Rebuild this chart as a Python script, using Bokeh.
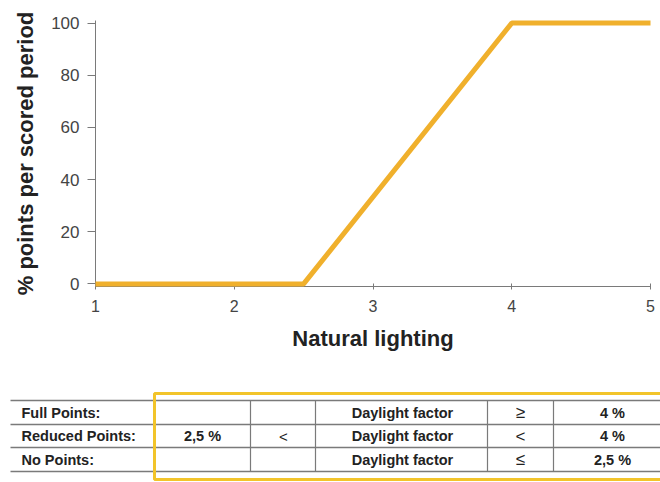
from bokeh.plotting import figure
from bokeh.models import Range1d, FixedTicker, ColumnDataSource
from bokeh.embed import file_html
from bokeh.resources import INLINE
from bokeh.core.properties import value

# ---------------- data ----------------
lighting = [1, 2.5, 4, 5]
points_pct = [0, 0, 100, 100]
x_ticks = [1, 2, 3, 4, 5]
y_ticks = [0, 20, 40, 60, 80, 100]
x_label = "Natural lighting"
y_label = "% points per scored period"

row_labels = ["Full Points:", "Reduced Points:", "No Points:"]
col_lower = ["", "2,5 %", ""]
col_lower_op = ["", "<", ""]
col_metric = ["Daylight factor", "Daylight factor", "Daylight factor"]
col_upper_op = ["\u2265", "<", "\u2264"]
col_upper = ["4 %", "4 %", "2,5 %"]

# ---------------- style ----------------
ORANGE = "#F0B02C"
YELLOW = "#F2C42A"
GRID = "#7a7a7a"
FONT = "Liberation Sans"

W = 660
H1 = 385
H2 = 97

# ---------------- chart ----------------
p = figure(width=W, height=H1, output_backend="svg", toolbar_location=None,
           x_range=Range1d(1, 5), y_range=Range1d(-1, 101),
           min_border_left=95, min_border_right=10,
           min_border_top=20, min_border_bottom=99)
p.grid.visible = False
p.outline_line_color = None

r = p.line(lighting, points_pct, line_color=ORANGE, line_width=5)
r.level = "overlay"

xa = p.xaxis[0]
xa.ticker = FixedTicker(ticks=x_ticks)
xa.axis_label = x_label
xa.axis_label_text_font = FONT
xa.axis_label_text_font_style = "bold"
xa.axis_label_text_font_size = "22px"
xa.axis_label_text_color = "#222222"
xa.axis_label_standoff = 11
xa.major_label_text_font = FONT
xa.major_label_text_font_size = "16px"
xa.major_label_text_color = "#444444"
xa.major_label_standoff = 10
xa.major_tick_in = 3
xa.major_tick_out = 3
xa.minor_tick_line_color = None
xa.axis_line_color = GRID
xa.major_tick_line_color = GRID

ya = p.yaxis[0]
ya.ticker = FixedTicker(ticks=y_ticks)
ya.axis_label = y_label
ya.axis_label_text_font = FONT
ya.axis_label_text_font_style = "bold"
ya.axis_label_text_font_size = "22px"
ya.axis_label_text_color = "#222222"
ya.axis_label_standoff = 10
ya.major_label_text_font = FONT
ya.major_label_text_font_size = "17px"
ya.major_label_text_color = "#444444"
ya.major_label_standoff = 8
ya.major_tick_in = 0
ya.major_tick_out = 8
ya.minor_tick_line_color = None
ya.axis_line_color = GRID
ya.major_tick_line_color = GRID

# ---------------- table ----------------
ORIGIN_X, ORIGIN_Y = 0, H1


def X(v):
    return v - ORIGIN_X


def Y(v):
    return v - ORIGIN_Y


t = figure(width=W, height=H2, output_backend="svg", toolbar_location=None,
           x_range=Range1d(0, W), y_range=Range1d(H2, 0),
           min_border=0, min_border_left=0, min_border_right=0,
           min_border_top=0, min_border_bottom=0,
           x_axis_location=None, y_axis_location=None)
t.grid.visible = False
t.outline_line_color = None

row_lines = [400, 424, 447, 471]
col_lines = [250, 315, 487, 553]
t.segment(x0=[X(10)] * 4, x1=[X(662)] * 4,
          y0=[Y(v) for v in row_lines], y1=[Y(v) for v in row_lines],
          line_color=GRID, line_width=1.5)
t.segment(x0=[X(v) for v in col_lines], x1=[X(v) for v in col_lines],
          y0=[Y(row_lines[0])] * 4, y1=[Y(row_lines[-1])] * 4,
          line_color=GRID, line_width=1.2)

t.quad(left=[X(154)], right=[X(720)], top=[Y(393)], bottom=[Y(479)],
       fill_color=None, line_color=YELLOW, line_width=3)

row_centers = [(row_lines[i] + row_lines[i + 1]) / 2 for i in range(3)]
ys = [Y(c) for c in row_centers]

t.text(x=[X(21)] * 3, y=ys, text=row_labels, text_font=value(FONT),
       text_font_style="bold", text_font_size="14.5px", text_color="#222222",
       text_baseline="middle", text_align="left")

columns = [(col_lower, 202, "bold", "14.5px"), (col_lower_op, 283, "normal", "15px"),
           (col_metric, 402, "bold", "14.5px"), (col_upper_op, 520, "normal", "17px"),
           (col_upper, 612, "bold", "14.5px")]
for texts, cx, style, size in columns:
    src = ColumnDataSource(dict(x=[X(cx)] * 3, y=ys, text=texts))
    t.text(x="x", y="y", text="text", source=src, text_font=value(FONT),
           text_font_style=style, text_font_size=size, text_color="#222222",
           text_baseline="middle", text_align="center")

open("out.html", "w").write(file_html([p, t], INLINE))
